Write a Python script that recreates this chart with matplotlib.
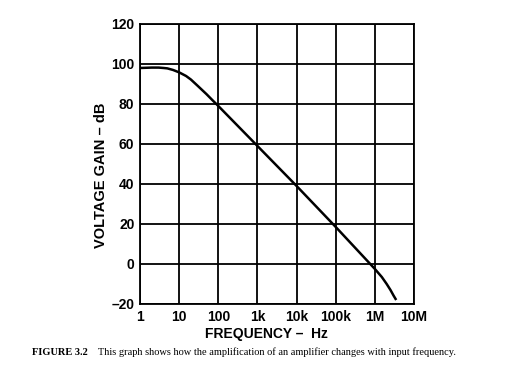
import matplotlib.pyplot as plt

# values
freq = [1, 2, 3, 4, 5, 7, 10, 15, 20, 30, 50, 70, 100, 1e3, 1e4, 1e5, 1e6, 1.5e6, 2e6, 2.5e6, 3e6, 3.5e6]
gain = [98, 98.2, 98.2, 98, 97.8, 97, 95.8, 94, 92.2, 89, 84.9, 82, 79, 59, 39, 18.5, -2.5, -6.5, -10, -13, -15.8, -18]

xticks = [1, 10, 100, 1e3, 1e4, 1e5, 1e6, 1e7]
xlabels = ["1", "10", "100", "1k", "10k", "100k", "1M", "10M"]
yticks = [-20, 0, 20, 40, 60, 80, 100, 120]
ylabels = ["\u201320", "0", "20", "40", "60", "80", "100", "120"]

plt.rcParams['font.family'] = ['Liberation Sans', 'DejaVu Sans']

fig = plt.figure(figsize=(5.29, 3.73), dpi=100)
ax = fig.add_axes([0.2647, 0.185, 0.518, 0.7507])

ax.plot(freq, gain, color="black", lw=1.8, solid_capstyle="butt")

ax.set_xscale("log")
ax.set_xlim(1, 1e7)
ax.set_ylim(-20, 120)
ax.set_xticks(xticks)
ax.set_xticklabels(xlabels)
ax.set_yticks(yticks)
ax.set_yticklabels(ylabels)
ax.minorticks_off()
ax.tick_params(length=0, labelsize=10, pad=4)
for lab in ax.get_xticklabels() + ax.get_yticklabels():
    lab.set_fontweight("bold")
ax.grid(True, color="black", lw=1.3)
for s in ax.spines.values():
    s.set_linewidth(1.3)

ax.set_xlabel("FREQUENCY \u2013  Hz", fontsize=10, fontweight="bold")
ax.xaxis.set_label_coords(0.46, -0.083)
ax.set_ylabel("VOLTAGE GAIN \u2013 dB", fontsize=10.5, fontweight="bold")
ax.yaxis.set_label_coords(-0.117, 0.46)

fig.text(0.0605, 0.056, "FIGURE 3.2", fontsize=7.5, fontweight="bold",
         family="Liberation Serif", va="center")
fig.text(0.185, 0.056, "This graph shows how the amplification of an amplifier changes with input frequency.",
         fontsize=7.5, family="Liberation Serif", va="center")

fig.savefig("out.png", dpi=100)
